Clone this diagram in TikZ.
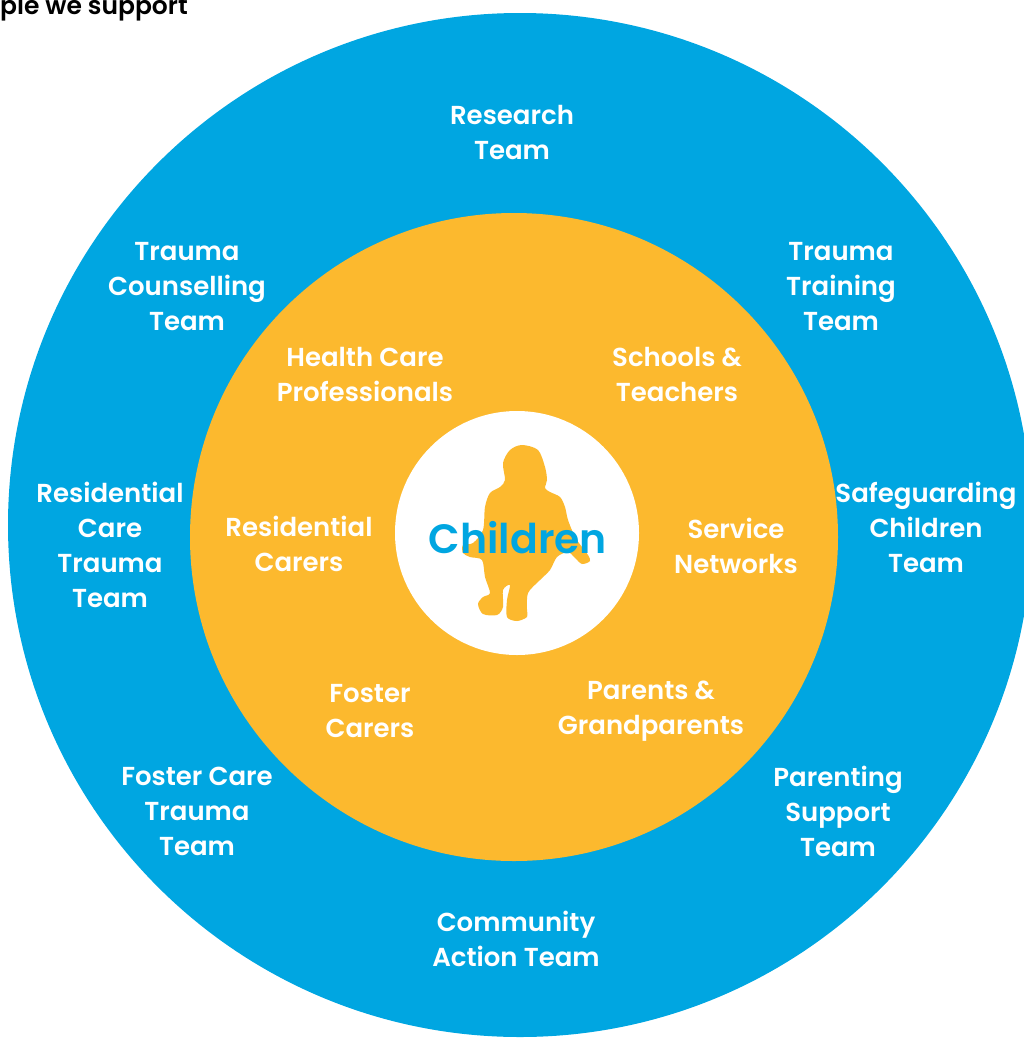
\documentclass[tikz,border=0pt]{standalone}
\usepackage{fontspec}
\setmainfont{Poppins}[BoldFont={Poppins SemiBold}]

\definecolor{ringblue}{RGB}{0,166,225}
\definecolor{ringyellow}{RGB}{252,185,46}

\tikzset{
  teamtext/.style={text=white, align=center, font=\bfseries\fontsize{26}{35}\selectfont},
  grouptext/.style={teamtext},
}

\begin{document}
\begin{tikzpicture}[x=1pt, y=-1pt]
        \useasboundingbox (0,0) rectangle (1024,1039);

        % rings
        \fill[ringblue] (520,525) circle (512pt);
        \fill[ringyellow] (514,537) circle (324pt);
        \fill[white] (517,533) circle (122pt);

        % child silhouette
        \fill[ringyellow] plot[smooth cycle, tension=0.5] coordinates {
          (522,445) (538,450) (545,467) (547,480) (545,488) (550,492)
          (560,497) (565,507) (568,520) (575,537) (582,547) (588,555)
          (590,561) (582,564) (575,558) (568,552) (557,557) (550,570)
          (540,580) (528,593) (527,610) (527,617) (517,621) (507,617)
          (507,600) (510,585) (503,590) (503,607) (497,615) (483,614)
          (478,604) (483,597) (490,593) (485,577) (482,560) (470,557)
          (463,553) (463,545) (473,543) (483,530) (485,507) (490,493)
          (500,487) (505,480) (503,463) (510,450)};

        \node[text=ringblue, font=\bfseries\fontsize{41}{41}\selectfont] (children) at (518,538) {Children};

        % outer ring
        \node[teamtext] (research) at (512,132) {Research\\Team};
        \node[teamtext] (counselling) at (187,287) {Trauma\\Counselling\\Team};
        \node[teamtext] (training) at (841,287) {Trauma\\Training\\Team};
        \node[teamtext] (residentialteam) at (110,545) {Residential\\Care\\Trauma\\Team};
        \node[teamtext] (safeguarding) at (926,527) {Safeguarding\\Children\\Team};
        \node[teamtext] (fosterteam) at (197,811) {Foster Care\\Trauma\\Team};
        \node[teamtext] (parenting) at (838,811) {Parenting\\Support\\Team};
        \node[teamtext] (community) at (516,939) {Community\\Action Team};

        % inner ring
        \node[grouptext] (health) at (365,374) {Health Care\\Professionals};
        \node[grouptext] (schools) at (677,374) {Schools \&\\Teachers};
        \node[grouptext] (residential) at (299,544) {Residential\\Carers};
        \node[grouptext] (networks) at (736,546) {Service\\Networks};
        \node[grouptext] (foster) at (370,711) {Foster\\Carers};
        \node[grouptext] (parents) at (651,711) {Parents \&\\Grandparents};

        \node[anchor=base west, inner sep=0pt, font=\bfseries\fontsize{25}{25}\selectfont] (heading) at (0,14) {ple we support};
      \end{tikzpicture}
\end{document}
